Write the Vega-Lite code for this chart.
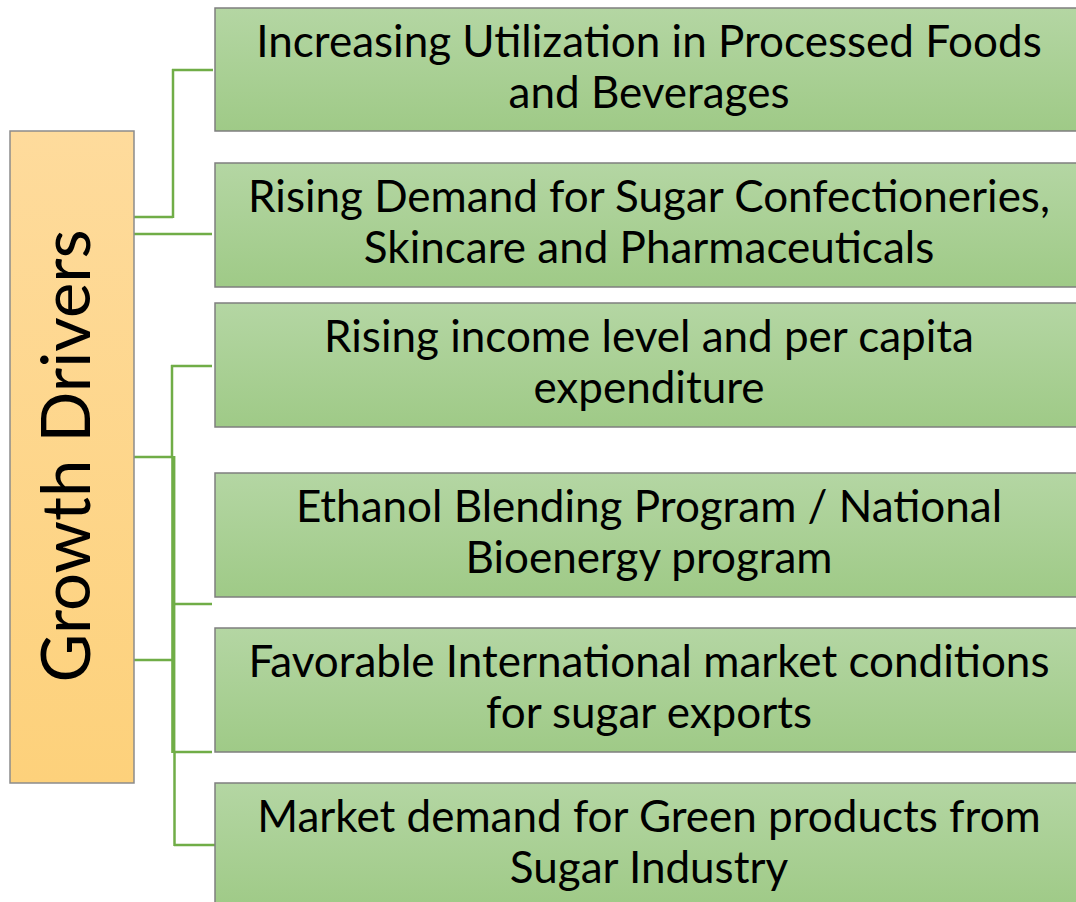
{
  "$schema": "https://vega.github.io/schema/vega-lite/v6.json",
  "width": 1076,
  "height": 902,
  "autosize": "none",
  "padding": 0,
  "background": "white",
  "config": {"view": {"stroke": null}},
  "datasets": {
    "drivers": [
      {"left": 215, "right": 1078, "top": 8, "bottom": 131, "tx": 649, "label": "Increasing Utilization in Processed Foods\nand Beverages"},
      {"left": 215, "right": 1078, "top": 163, "bottom": 287, "tx": 649, "label": "Rising Demand for Sugar Confectioneries,\nSkincare and Pharmaceuticals"},
      {"left": 215, "right": 1078, "top": 303, "bottom": 427, "tx": 649, "label": "Rising income level and per capita\nexpenditure"},
      {"left": 215, "right": 1078, "top": 473, "bottom": 597, "tx": 649, "label": "Ethanol Blending Program / National\nBioenergy program"},
      {"left": 215, "right": 1078, "top": 628, "bottom": 752, "tx": 649, "label": "Favorable International market conditions\nfor sugar exports"},
      {"left": 215, "right": 1078, "top": 783, "bottom": 908, "tx": 649, "label": "Market demand for Green products from\nSugar Industry"}
    ],
    "hub": [
      {"left": 10, "right": 134, "top": 131, "bottom": 783, "tx": 70, "ty": 456, "label": "Growth Drivers"}
    ],
    "links": [
      {"xa": 134, "ya": 217, "xb": 173, "yb": 217},
      {"xa": 173, "ya": 218, "xb": 173, "yb": 69},
      {"xa": 172, "ya": 70, "xb": 213, "yb": 70},
      {"xa": 134, "ya": 234, "xb": 212, "yb": 234},
      {"xa": 134, "ya": 457, "xb": 173, "yb": 457},
      {"xa": 172, "ya": 365, "xb": 172, "yb": 457},
      {"xa": 171, "ya": 366, "xb": 212, "yb": 366},
      {"xa": 175, "ya": 604, "xb": 212, "yb": 604},
      {"xa": 134, "ya": 660, "xb": 173, "yb": 660},
      {"xa": 175, "ya": 752, "xb": 212, "yb": 752},
      {"xa": 174.5, "ya": 752, "xb": 174.5, "yb": 846},
      {"xa": 174, "ya": 845, "xb": 215, "yb": 845}
    ],
    "trunk": [
      {"xa": 173.3, "ya": 456, "xb": 173.3, "yb": 753}
    ]
  },
  "layer": [
    {
      "data": {"name": "links"},
      "mark": {"type": "rule", "color": "#70ad47", "strokeWidth": 2.5},
      "encoding": {
        "x": {"field": "xa", "type": "quantitative", "scale": {"domain": [0, 1076], "nice": false, "zero": false}, "axis": null},
        "y": {"field": "ya", "type": "quantitative", "scale": {"domain": [0, 902], "nice": false, "zero": false, "reverse": true}, "axis": null},
        "x2": {"field": "xb"},
        "y2": {"field": "yb"}
      }
    },
    {
      "data": {"name": "trunk"},
      "mark": {"type": "rule", "color": "#70ad47", "strokeWidth": 4.2},
      "encoding": {
        "x": {"field": "xa", "type": "quantitative"},
        "y": {"field": "ya", "type": "quantitative"},
        "x2": {"field": "xb"},
        "y2": {"field": "yb"}
      }
    },
    {
      "data": {"name": "drivers"},
      "mark": {
        "type": "rect",
        "stroke": "#7f7f7f",
        "strokeWidth": 1.5,
        "color": {"gradient": "linear", "x1": 0, "y1": 0, "x2": 0, "y2": 1, "stops": [{"offset": 0, "color": "#b4d6a3"}, {"offset": 1, "color": "#9fca87"}]}
      },
      "encoding": {
        "x": {"field": "left", "type": "quantitative"},
        "x2": {"field": "right"},
        "y": {"field": "top", "type": "quantitative"},
        "y2": {"field": "bottom"}
      }
    },
    {
      "data": {"name": "hub"},
      "mark": {
        "type": "rect",
        "stroke": "#8c8c8c",
        "strokeWidth": 1.5,
        "color": {"gradient": "linear", "x1": 0, "y1": 0, "x2": 0, "y2": 1, "stops": [{"offset": 0, "color": "#fedb9c"}, {"offset": 1, "color": "#fdd17b"}]}
      },
      "encoding": {
        "x": {"field": "left", "type": "quantitative"},
        "x2": {"field": "right"},
        "y": {"field": "top", "type": "quantitative"},
        "y2": {"field": "bottom"}
      }
    },
    {
      "data": {"name": "drivers"},
      "mark": {"type": "text", "font": "Lato", "fontSize": 44, "color": "#000000", "align": "center", "baseline": "alphabetic", "dy": 49, "lineBreak": "\n", "lineHeight": 51},
      "encoding": {
        "x": {"field": "tx", "type": "quantitative"},
        "y": {"field": "top", "type": "quantitative"},
        "text": {"field": "label"}
      }
    },
    {
      "data": {"name": "hub"},
      "mark": {"type": "text", "font": "Lato", "fontSize": 67, "color": "#000000", "align": "center", "baseline": "middle", "angle": 270},
      "encoding": {
        "x": {"field": "tx", "type": "quantitative"},
        "y": {"field": "ty", "type": "quantitative"},
        "text": {"field": "label"}
      }
    }
  ]
}
